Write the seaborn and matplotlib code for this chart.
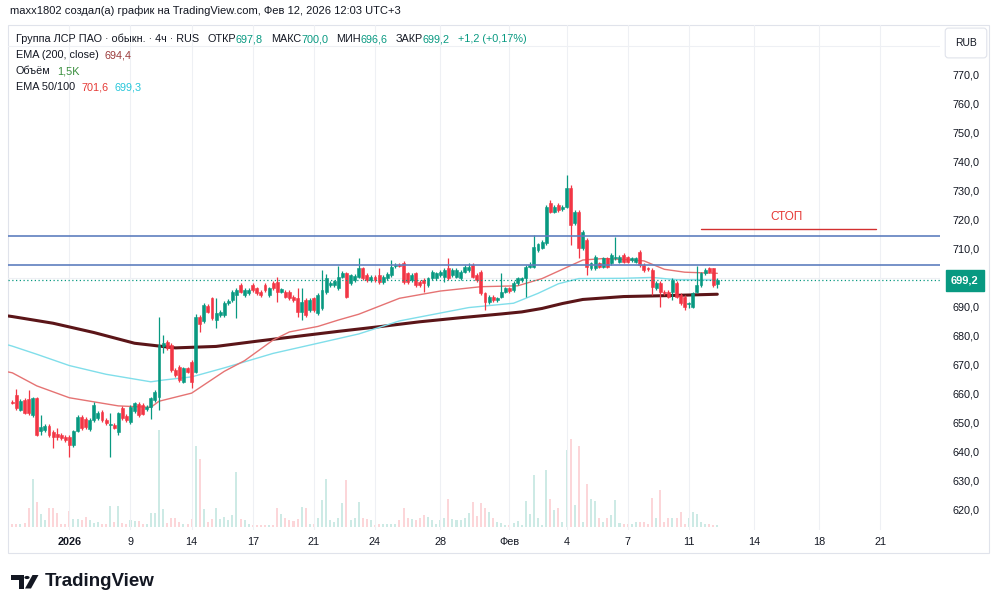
import numpy as np
import pandas as pd
import matplotlib
matplotlib.use("Agg")
import matplotlib.pyplot as plt
import seaborn as sns
from matplotlib.patches import Rectangle, Polygon, Circle

# 4h bars of Группа ЛСР (bar index 0..173)
opens = [
    657.4, 659.6, 654.5, 657.9, 658.2, 652.7, 658.5, 647.4, 647.5, 649.0,
    647.0, 646.2, 645.8, 645.3, 645.3, 642.4, 647.2, 652.2, 651.3, 647.8,
    651.0, 651.6, 653.9, 651.0, 649.3, 649.3, 646.8, 655.1, 652.4, 650.4,
    654.2, 656.5, 656.2, 654.8, 655.6, 657.9, 659.0, 676.4, 678.0, 676.9,
    668.3, 669.4, 664.3, 668.8, 671.0, 667.7, 686.7, 685.0, 690.5, 693.0,
    685.5, 687.2, 687.1, 691.3, 692.4, 694.1, 697.6, 694.1, 694.7, 697.6,
    696.4, 695.3, 697.6, 694.1, 698.2, 698.7, 695.3, 695.3, 695.3, 693.6,
    693.0, 688.4, 692.4, 689.0, 693.0, 687.8, 689.5, 695.0, 697.5, 697.6,
    696.4, 700.5, 701.6, 698.2, 699.3, 700.5, 703.3, 701.0, 699.3, 700.5,
    701.0, 698.7, 699.9, 701.0, 704.0, 704.5, 705.1, 701.6, 699.3, 701.6,
    698.7, 699.3, 697.6, 699.9, 699.9, 701.0, 700.5, 703.3, 701.0, 700.5,
    699.9, 702.2, 702.8, 704.5, 701.0, 702.2, 694.7, 691.8, 693.6, 692.4,
    693.6, 695.3, 696.4, 695.9, 698.2, 699.3, 699.9, 703.9, 703.9, 709.6,
    710.5, 712.0, 725.7, 722.9, 725.2, 723.7, 724.6, 730.9, 718.8, 722.9,
    710.2, 713.1, 703.3, 703.3, 705.0, 703.9, 706.8, 705.0, 706.8, 705.6,
    707.9, 707.1, 706.2, 705.6, 709.0, 704.5, 703.3, 702.8, 696.4, 698.2,
    695.3, 695.3, 695.3, 698.2, 694.1, 693.6, 691.0, 690.1, 695.3, 697.6,
    701.6, 703.3, 703.3, 697.8]
highs = [
    658.0, 661.6, 658.3, 658.6, 661.4, 659.0, 659.0, 652.7, 649.8, 649.5,
    647.5, 648.2, 646.4, 645.8, 645.9, 647.6, 652.7, 652.8, 651.9, 651.6,
    657.3, 654.0, 654.5, 651.6, 653.3, 649.9, 653.9, 655.7, 653.0, 656.2,
    657.4, 657.1, 656.8, 656.2, 659.0, 661.4, 686.7, 680.3, 678.6, 677.5,
    668.9, 670.0, 669.4, 669.4, 671.6, 687.5, 687.3, 691.5, 691.1, 693.6,
    693.0, 689.0, 692.0, 692.8, 695.9, 696.4, 698.2, 696.5, 696.5, 698.2,
    697.0, 695.9, 698.2, 697.0, 698.8, 700.5, 696.7, 695.9, 695.9, 694.2,
    696.4, 696.4, 693.0, 693.0, 693.6, 694.7, 702.8, 701.5, 699.0, 699.4,
    704.0, 702.3, 702.2, 701.5, 701.4, 707.0, 703.9, 701.6, 701.1, 701.1,
    703.5, 701.1, 701.9, 706.2, 705.0, 705.0, 705.7, 702.2, 701.6, 702.2,
    699.3, 699.9, 700.5, 702.8, 702.2, 702.8, 703.4, 706.8, 703.4, 703.4,
    702.8, 704.5, 705.1, 705.1, 701.6, 702.8, 695.3, 694.2, 694.2, 693.6,
    701.6, 697.0, 697.0, 698.8, 700.5, 700.5, 704.5, 705.5, 714.8, 712.2,
    713.1, 725.2, 726.9, 725.2, 725.8, 725.2, 735.5, 732.0, 723.5, 723.5,
    716.5, 713.7, 705.6, 707.9, 705.6, 707.4, 707.4, 708.5, 714.2, 707.9,
    708.5, 707.7, 707.4, 707.4, 709.6, 705.1, 703.9, 703.4, 698.8, 698.8,
    695.9, 695.9, 699.9, 698.8, 694.7, 694.2, 691.6, 695.3, 704.0, 702.2,
    703.4, 703.9, 703.6, 700.0]
lows = [
    656.4, 654.6, 654.0, 653.0, 652.8, 652.2, 645.5, 645.9, 647.0, 645.3,
    641.3, 644.2, 644.2, 643.6, 638.4, 641.8, 646.8, 647.6, 647.9, 647.2,
    650.4, 651.1, 650.4, 649.3, 638.4, 647.8, 645.9, 651.0, 650.4, 649.8,
    653.6, 652.2, 652.6, 654.2, 651.3, 657.3, 654.5, 674.0, 675.1, 667.7,
    665.9, 664.2, 663.7, 667.1, 661.9, 667.1, 681.5, 684.5, 687.8, 685.5,
    682.6, 686.6, 686.5, 690.7, 691.8, 686.1, 694.7, 693.5, 694.1, 695.3,
    694.1, 693.5, 695.3, 693.5, 695.8, 691.8, 694.7, 693.0, 692.4, 691.8,
    686.7, 685.5, 686.6, 688.4, 688.4, 687.2, 689.0, 694.4, 696.9, 697.0,
    695.8, 700.0, 693.0, 697.6, 698.7, 699.9, 699.3, 698.7, 698.7, 698.7,
    698.1, 698.1, 699.3, 700.4, 703.5, 703.8, 698.0, 698.1, 698.7, 697.0,
    697.0, 695.3, 697.0, 699.3, 699.3, 700.4, 698.7, 699.3, 700.4, 699.9,
    699.3, 701.6, 702.2, 699.9, 698.7, 694.1, 689.0, 691.2, 691.8, 691.8,
    693.0, 694.7, 694.9, 695.3, 697.6, 698.7, 693.6, 703.3, 703.3, 709.0,
    709.9, 711.4, 722.3, 722.3, 722.8, 723.1, 724.0, 711.4, 718.2, 706.8,
    709.6, 701.0, 702.7, 702.7, 703.3, 703.3, 703.3, 704.4, 706.2, 705.0,
    705.0, 705.0, 705.6, 705.0, 703.9, 702.2, 702.4, 694.1, 695.8, 690.1,
    694.1, 693.0, 692.4, 693.0, 690.7, 689.0, 689.5, 689.5, 694.7, 697.0,
    701.0, 701.6, 697.0, 696.6]
closes = [
    656.8, 655.1, 657.7, 653.6, 653.3, 658.5, 645.9, 648.5, 649.0, 645.9,
    645.3, 645.0, 644.7, 644.3, 642.4, 647.2, 652.2, 648.2, 648.5, 651.0,
    656.2, 653.3, 651.0, 649.9, 649.7, 648.4, 653.3, 651.6, 651.0, 655.6,
    656.8, 652.7, 653.1, 655.6, 658.5, 660.8, 676.9, 677.5, 675.7, 668.3,
    666.5, 664.8, 668.8, 667.7, 664.3, 686.7, 684.2, 690.8, 688.4, 686.1,
    687.8, 688.4, 691.5, 692.2, 695.3, 695.9, 695.3, 695.9, 695.9, 695.9,
    694.7, 694.1, 695.9, 696.4, 696.4, 695.3, 696.1, 693.6, 693.0, 692.4,
    688.4, 691.8, 687.2, 692.4, 689.0, 694.1, 696.0, 700.0, 698.3, 698.8,
    700.5, 701.8, 693.6, 701.0, 700.8, 703.3, 699.9, 699.3, 700.5, 699.3,
    698.7, 700.5, 701.3, 703.8, 704.5, 704.3, 698.7, 698.7, 701.0, 697.6,
    697.6, 698.2, 699.9, 702.2, 701.6, 702.2, 702.8, 699.9, 702.8, 702.8,
    702.2, 703.9, 703.9, 700.5, 699.3, 694.7, 691.8, 693.6, 692.4, 693.0,
    695.3, 696.4, 695.5, 698.2, 699.9, 699.9, 703.9, 704.5, 710.8, 711.6,
    712.5, 724.6, 722.9, 724.6, 723.4, 724.6, 730.9, 718.3, 722.9, 710.2,
    715.9, 703.9, 705.0, 707.3, 703.9, 706.8, 703.9, 707.9, 707.3, 707.3,
    705.6, 705.6, 706.8, 706.8, 704.5, 702.8, 703.0, 697.0, 698.2, 695.3,
    694.7, 693.6, 699.3, 693.6, 691.3, 690.1, 691.3, 694.7, 697.6, 701.6,
    702.8, 702.2, 697.6, 699.2]
volumes_k = [
    2.2, 2.2, 2.2, 3.0, 14.2, 36.0, 18.8, 9.8, 5.2, 14.2,
    14.2, 10.5, 2.2, 2.2, 12.0, 6.0, 6.0, 5.2, 7.5, 5.2,
    3.0, 3.8, 2.2, 2.2, 15.8, 3.8, 15.8, 3.0, 2.2, 5.2,
    4.5, 4.5, 2.2, 2.2, 10.5, 10.5, 72.8, 13.5, 3.0, 6.8,
    6.8, 3.8, 2.2, 2.2, 6.0, 60.8, 51.0, 13.5, 3.8, 6.0,
    14.2, 6.0, 7.5, 5.2, 9.0, 41.2, 6.0, 5.2, 2.2, 1.5,
    1.5, 1.5, 1.5, 1.5, 1.5, 14.2, 9.8, 6.8, 5.2, 4.5,
    6.0, 15.0, 14.2, 2.2, 2.2, 6.8, 20.2, 36.0, 5.2, 3.8,
    6.8, 18.0, 35.2, 5.2, 6.8, 18.8, 6.8, 6.0, 5.2, 1.5,
    2.2, 2.2, 2.2, 2.2, 2.2, 5.2, 14.2, 6.8, 6.0, 5.2,
    6.8, 9.0, 7.5, 5.2, 2.2, 5.2, 6.8, 21.0, 6.0, 5.2,
    5.2, 6.8, 10.5, 18.8, 8.2, 18.0, 14.2, 11.2, 6.8, 3.8,
    3.0, 1.5, 1.5, 3.0, 4.5, 1.5, 19.5, 9.8, 39.0, 6.8,
    1.5, 42.8, 21.0, 12.8, 14.2, 3.8, 57.8, 66.0, 16.5, 60.8,
    3.8, 32.2, 21.0, 19.5, 6.8, 3.8, 6.8, 9.0, 20.2, 3.0,
    2.2, 2.2, 2.2, 3.8, 3.8, 3.8, 2.2, 21.8, 6.8, 27.8,
    3.8, 6.8, 6.8, 6.8, 11.2, 2.2, 6.8, 11.2, 9.8, 3.8,
    2.2, 2.2, 1.5, 1.5]

# moving averages read at a few bars
ema200_idx = [-1, 0, 10, 20, 30, 40, 50, 60, 70, 80, 90, 100, 110, 120, 125, 130, 135, 140, 150, 160, 173]
ema200_val = [686.9, 686.7, 684.4, 681.2, 677.5, 675.9, 676.4, 678.2, 679.9, 681.6, 683.2, 684.9, 686.3,
              687.6, 688.3, 689.5, 691.2, 692.6, 693.6, 693.9, 694.4]
ema50_idx = [-1, 0, 6, 14, 26, 34, 36, 44, 52, 57, 64, 68, 75, 80, 85, 95, 105, 115, 124, 130, 135,
             140, 145, 150, 155, 160, 165, 173]
ema50_val = [667.6, 667.3, 662.8, 658.7, 655.9, 655.4, 657.5, 660.3, 667.8, 671.5, 678.6, 681.4, 683.3,
             685.5, 687.5, 693.0, 695.5, 697.0, 697.3, 699.8, 703.0, 706.2, 706.7, 706.4, 705.9, 703.0,
             702.0, 701.6]
ema100_idx = [-1, 0, 6, 14, 23, 34, 37, 44, 52, 64, 75, 85, 95, 112, 123, 129, 134, 139, 150, 157, 163, 173]
ema100_val = [676.9, 676.5, 673.7, 669.8, 666.8, 664.2, 664.8, 665.9, 669.0, 674.0, 677.5, 680.7, 685.2,
              689.8, 691.3, 694.7, 698.0, 699.8, 699.9, 700.2, 699.4, 699.3]

levels = [714.5, 704.5]
last_price = 699.2
stop_level = 717.0
stop_span = (169, 212)
stop_label_pos = (190, 721.0)

date_ticks = [14, 29, 44, 59, 74, 89, 105, 122, 136, 151, 166, 182, 198, 213]
date_labels = ['2026', '9', '14', '17', '21', '24', '28', 'Фев', '4', '7', '11', '14', '18', '21']
price_ticks = [620, 630, 640, 650, 660, 670, 680, 690, 710, 720, 730, 740, 750, 760, 770]

UP, DOWN = '#089981', '#f23645'
TXT = '#131722'
W, H = 1000, 610

sns.set_theme(style='white')
plt.rcParams['font.family'] = ['Liberation Sans', 'DejaVu Sans']

fig = plt.figure(figsize=(W / 100, H / 100), dpi=100)
fig.patch.set_facecolor('white')
ax = fig.add_axes([8 / W, 1 - 530 / H, 932 / W, 505 / H])
axv = ax.twinx()
ax.set_zorder(2)
axv.set_zorder(1)
ax.patch.set_visible(False)

idx = np.arange(len(closes))
o, h, l, c = (np.array(a) for a in (opens, highs, lows, closes))
up = c >= o
cols = np.where(up, UP, DOWN)

# volume
vcols = [(8 / 255, 153 / 255, 129 / 255, 0.2) if u else (242 / 255, 54 / 255, 69 / 255, 0.2) for u in up]
axv.bar(idx, volumes_k, width=0.5, color=vcols, linewidth=0)
axv.set_ylim(-2.2, 376.5)
axv.set_yticks([])
for s in axv.spines.values():
    s.set_visible(False)

# EMAs
sns.lineplot(x=ema200_idx, y=ema200_val, ax=ax, color='#5b1518', linewidth=2.2, zorder=2)
sns.lineplot(x=ema100_idx, y=ema100_val, ax=ax, color='#80deea', linewidth=1.0, zorder=2)
sns.lineplot(x=ema50_idx, y=ema50_val, ax=ax, color='#e57373', linewidth=1.0, zorder=2)

# candles
ax.vlines(idx, l, h, colors=cols, linewidth=0.9, zorder=3)
ax.bar(idx, np.abs(c - o), bottom=np.minimum(o, c), width=0.72, color=cols,
       edgecolor=cols, linewidth=0.4, zorder=4)

# drawings
for lv in levels:
    ax.axhline(lv, color='#5f7fbf', linewidth=1.2, zorder=5)
ax.axhline(last_price, color=UP, linewidth=0.9, linestyle=(0, (1, 2)), zorder=5)
ax.plot(stop_span, [stop_level, stop_level], color='#d32f2f', linewidth=1.0, zorder=5)
ax.text(*stop_label_pos, 'СТОП', color='#e53935', fontsize=8.5, ha='center', va='center', zorder=6)

# axes
ax.set_xlim(-1.06, 227.65)
ax.set_ylim(613.1, 787.24)
ax.yaxis.tick_right()
ax.set_yticks(price_ticks)
ax.set_yticklabels([f'{v:.1f}'.replace('.', ',') for v in price_ticks])
ax.set_yticks(np.arange(620, 790, 10), minor=True)
ax.set_xticks(date_ticks)
ax.set_xticklabels(date_labels)
ax.get_xticklabels()[0].set_fontweight('bold')
ax.tick_params(axis='y', which='both', length=0, pad=9, labelsize=7.8, labelcolor=TXT)
ax.tick_params(axis='x', length=0, pad=5, labelsize=7.8, labelcolor=TXT)
ax.grid(False)
ax.grid(True, axis='y', which='minor', color='#eef0f4', linewidth=0.8)
ax.grid(True, axis='x', which='major', color='#eef0f4', linewidth=0.8)
ax.set_xlabel('')
ax.set_ylabel('')
for s in ax.spines.values():
    s.set_visible(False)

# last price badge and currency box
ax.annotate(f'{last_price:.1f}'.replace('.', ','), xy=(1.0268, last_price),
            xycoords=('axes fraction', 'data'), ha='center', va='center',
            fontsize=8, fontweight='bold', color='white', annotation_clip=False,
            bbox=dict(boxstyle='square,pad=0.5', fc=UP, ec=UP))
fig.text(966 / W, 1 - 43 / H, 'RUB', fontsize=7.5, color=TXT, ha='center', va='center',
         bbox=dict(boxstyle='round,pad=0.95,rounding_size=0.3', fc='white', ec='#e0e3eb', lw=0.8))

fig.add_artist(Rectangle((8 / W, 1 - 553 / H), 981 / W, 528 / H, fill=False,
                         ec='#e0e3eb', lw=0.8, transform=fig.transFigure))

# header texts
renderer = fig.canvas.get_renderer()


def text_runs(x, y, runs, size):
    for s, col, gap in runs:
        t = fig.text(x / W, 1 - y / H, s, color=col, fontsize=size, ha='left', va='center')
        x += t.get_window_extent(renderer=renderer).width + gap


fig.text(10 / W, 1 - 11 / H, 'maxx1802 создал(а) график на TradingView.com, Фев 12, 2026 12:03 UTC+3',
         fontsize=8, color=TXT, ha='left', va='center')
text_runs(16, 39, [('Группа ЛСР ПАО · обыкн. · 4ч · RUS', TXT, 8),
                   ('ОТКР', TXT, 0), ('697,8', UP, 8),
                   ('МАКС', TXT, 0), ('700,0', UP, 8),
                   ('МИН', TXT, 0), ('696,6', UP, 8),
                   ('ЗАКР', TXT, 0), ('699,2', UP, 8),
                   ('+1,2 (+0,17%)', UP, 0)], 7.8)
text_runs(16, 55, [('EMA (200, close)', TXT, 6), ('694,4', '#9b3a3a', 0)], 7.8)
text_runs(16, 71, [('Объём', TXT, 6), ('1,5K', '#388e3c', 0)], 7.8)
text_runs(16, 87, [('EMA 50/100', TXT, 6), ('701,6', '#e53935', 6), ('699,3', '#26c6da', 0)], 7.8)

# TradingView logo
px = lambda x, y: (x / W, 1 - y / H)
fig.add_artist(Polygon([px(11, 575), px(23.5, 575), px(23.5, 588.5), px(18.5, 588.5),
                        px(18.5, 580), px(11, 580)], closed=True, fc='#131722', ec='none',
                       transform=fig.transFigure))
fig.add_artist(Circle(px(27, 577.5), 2.6 / W, fc='#131722', ec='none', transform=fig.transFigure))
fig.add_artist(Polygon([px(25, 588.5), px(31, 588.5), px(38.5, 575), px(32.5, 575)], closed=True,
                       fc='#131722', ec='none', transform=fig.transFigure))
fig.text(45 / W, 1 - 582 / H, 'TradingView', fontsize=13.5, fontweight='bold', color='#131722',
         ha='left', va='center')

fig.savefig('out.png', dpi=100, facecolor='white')
